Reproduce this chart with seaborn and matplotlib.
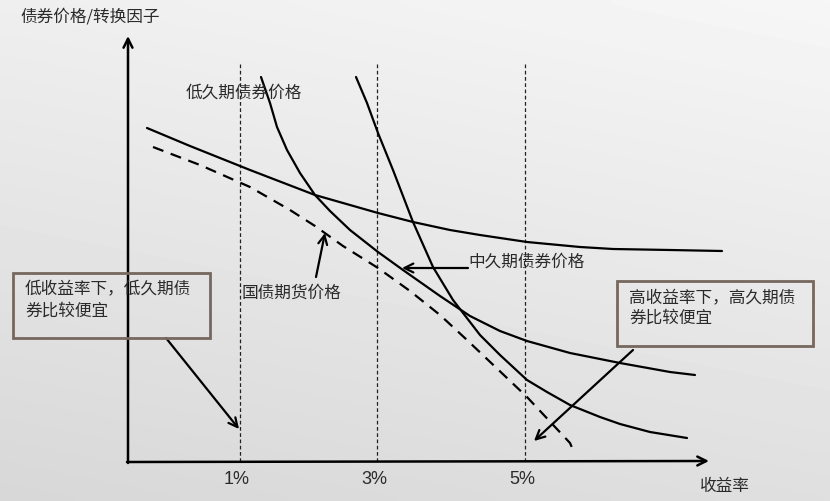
import matplotlib
matplotlib.use("Agg")
import matplotlib.pyplot as plt
import numpy as np
import pandas as pd
import seaborn as sns

# schematic drawn in picture coordinates (x to the right, y downward)
low_dur_x = [147, 190, 250, 315, 378, 413, 450, 480, 527, 580, 613, 670, 722]
low_dur_y = [128, 146, 170, 195, 213, 222, 230, 235, 242, 247, 249, 250, 251]

mid_dur_x = [261, 270, 277, 287, 300, 315, 330, 350, 378, 403, 440, 470, 500, 527, 570, 620, 670, 695]
mid_dur_y = [77, 103, 127, 150, 173, 195, 211, 230, 252, 270, 296, 316, 331, 341, 353, 363, 372, 375]

high_dur_x = [356, 367, 378, 393, 413, 433, 453, 470, 480, 500, 527, 547, 570, 600, 620, 650, 687]
high_dur_y = [77, 103, 133, 170, 222, 267, 300, 322, 335, 355, 380, 392, 405, 417, 424, 432, 438]

futures_x = [153, 200, 250, 290, 315, 343, 378, 410, 440, 467, 527, 570, 573]
futures_y = [147, 165, 187, 210, 226, 246, 268, 291, 315, 340, 397, 443, 450]

yield_x = [240, 377, 525]
yield_labels = ["1%", "3%", "5%"]

CJK = ["Noto Sans CJK SC", "DejaVu Sans"]
TXT = "#2a2a2a"
BOX = "#76675f"

sns.set_theme(style="white")
plt.rcParams["font.family"] = CJK

fig = plt.figure(figsize=(8.3, 5.01), dpi=100)
ax = fig.add_axes([0, 0, 1, 1])
ax.set_xlim(0, 830)
ax.set_ylim(501, 0)
ax.axis("off")

# light grey paper background
gy, gx = np.mgrid[0:1:60j, 0:1:100j]
bg = 0.965 - 0.09 * gy - 0.03 * (1 - gx)
ax.imshow(bg, cmap="gray", vmin=0, vmax=1, extent=[0, 830, 501, 0],
          aspect="auto", interpolation="bicubic", zorder=0)

# price curves
for xs, ys in [(low_dur_x, low_dur_y), (mid_dur_x, mid_dur_y), (high_dur_x, high_dur_y)]:
    df = pd.DataFrame({"x": xs, "y": ys})
    sns.lineplot(data=df, x="x", y="y", ax=ax, color="black", lw=1.6, sort=False,
                 solid_joinstyle="round", zorder=3)
df = pd.DataFrame({"x": futures_x, "y": futures_y})
sns.lineplot(data=df, x="x", y="y", ax=ax, color="black", lw=1.6, sort=False,
             linestyle=(0, (5, 3.5)), zorder=3)
ax.set_xlim(0, 830)
ax.set_ylim(501, 0)

# yield reference lines
ax.vlines(yield_x, 64, 462, colors="#222222", lw=0.9, linestyles=(0, (3, 2)), zorder=2)

# axes with open arrowheads
arrow = dict(arrowstyle="->", color="black", lw=1.8, mutation_scale=16, shrinkA=0, shrinkB=0)
ax.annotate("", xy=(128, 36), xytext=(128, 463), arrowprops=arrow, zorder=4)
ax.annotate("", xy=(709, 461), xytext=(127, 462), arrowprops=arrow, zorder=4)

for x, lab in zip(yield_x, yield_labels):
    ax.text(x - 3, 480, lab, ha="center", va="center", fontsize=13,
            family=["Liberation Sans", "DejaVu Sans"], color=TXT)

ax.text(20, 17, "债券价格/转换因子", ha="left", va="center", fontsize=12, color=TXT)
ax.text(700, 487, "收益率", ha="left", va="center", fontsize=12, color=TXT)
ax.text(186, 93, "低久期债券价格", ha="left", va="center", fontsize=12, color=TXT)
ax.text(468, 262, "中久期债券价格", ha="left", va="center", fontsize=12, color=TXT)
ax.text(242, 293, "国债期货价格", ha="left", va="center", fontsize=12, color=TXT)

# pointer arrows
thin = dict(arrowstyle="->", color="black", lw=1.6, mutation_scale=16, shrinkA=0, shrinkB=0)
ax.annotate("", xy=(325, 233), xytext=(316, 277), arrowprops=thin, zorder=4)
ax.annotate("", xy=(402, 268), xytext=(468, 268), arrowprops=thin, zorder=4)
ax.annotate("", xy=(239, 429), xytext=(166, 338), arrowprops=thin, zorder=4)
ax.annotate("", xy=(534, 441), xytext=(633, 350), arrowprops=thin, zorder=4)

# note boxes
ax.add_patch(plt.Rectangle((13, 273), 197, 65, fill=False, ec=BOX, lw=2, zorder=5))
ax.text(25, 290, "低收益率下，低久期债", ha="left", va="center", fontsize=12, color=TXT, zorder=5)
ax.text(25, 311, "券比较便宜", ha="left", va="center", fontsize=12, color=TXT, zorder=5)

ax.add_patch(plt.Rectangle((617, 281), 196, 65, fill=False, ec=BOX, lw=2, zorder=5))
ax.text(629, 298, "高收益率下，高久期债", ha="left", va="center", fontsize=12, color=TXT, zorder=5)
ax.text(629, 318, "券比较便宜", ha="left", va="center", fontsize=12, color=TXT, zorder=5)

fig.savefig("out.png", dpi=100)
